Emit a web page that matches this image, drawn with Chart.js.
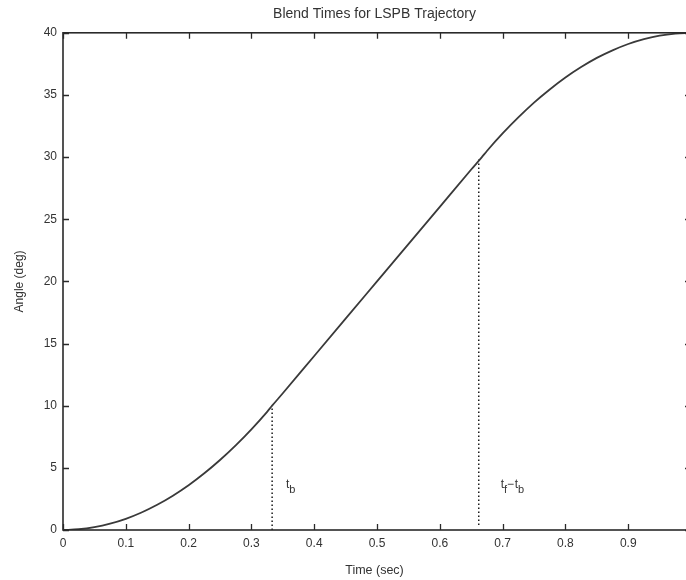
<!DOCTYPE html>
<html>
<head>
<meta charset="utf-8">
<title>Blend Times for LSPB Trajectory</title>
<script src="https://cdn.jsdelivr.net/npm/chart.js@4/dist/chart.umd.min.js"></script>
<style>
  html, body { margin: 0; padding: 0; background: #ffffff; overflow: hidden; }
  #wrap { width: 686px; height: 580px; }
</style>
</head>
<body>
<div id="wrap"><canvas id="lspb" width="686" height="580"></canvas></div>
<script>
// Joint angle of the LSPB (linear segment with parabolic blends) trajectory
const timeSec = [0, 0.025, 0.05, 0.075, 0.1, 0.125, 0.15, 0.175, 0.2, 0.225, 0.25, 0.275, 0.3, 0.325, 0.333,
                 0.35, 0.4, 0.45, 0.5, 0.55, 0.6, 0.65, 0.667,
                 0.675, 0.7, 0.725, 0.75, 0.775, 0.8, 0.825, 0.85, 0.875, 0.9, 0.925, 0.95, 0.975, 1];
const angleDeg = [0, 0.06, 0.23, 0.51, 0.9, 1.41, 2.03, 2.76, 3.6, 4.56, 5.63, 6.81, 8.1, 9.51, 10,
                  11, 14, 17, 20, 23, 26, 29, 30,
                  30.49, 31.9, 33.19, 34.38, 35.44, 36.4, 37.24, 37.98, 38.59, 39.1, 39.49, 39.78, 39.94, 40];

// Blend instants: start/end of the linear segment and the angle reached there
const blendTimes = [0.333, 0.662];
const blendAngles = [10, 30];
const blendBase = [0, 0.4];
const blendNames = [["t", "b"], ["t", "f", "\u2212", "t", "b"]];

// Tick values (the axis box ends at t = 1, just past the visible edge)
const xTicks = [0, 0.1, 0.2, 0.3, 0.4, 0.5, 0.6, 0.7, 0.8, 0.9];
const yTicks = [0, 5, 10, 15, 20, 25, 30, 35, 40];
const X_VISIBLE_MAX = 0.992;
const X_BOX_END = 1;

const FONT = "'Liberation Sans', Arial, Helvetica, sans-serif";
const INK = '#333333';

// where the blend-time names sit, in data units
const nameAnchors = [{ x: 0.355, y: 3.4 }, { x: 0.697, y: 3.4 }];

const curve = timeSec.map((t, i) => ({ x: t, y: angleDeg[i] }));
const blendSets = blendTimes.map((t, i) => ({
  data: [{ x: t, y: blendBase[i] }, { x: t, y: blendAngles[i] }],
  borderColor: '#1a1a1a',
  borderWidth: 1.5,
  borderDash: [1.5, 2.5],
  pointRadius: 0,
  fill: false
}));

// Matlab-style boxed axes with inward tick marks, plus subscripted labels
const boxAxes = {
  id: 'boxAxes',
  afterDatasetsDraw(chart) {
    const { ctx, chartArea: a, scales: { x, y } } = chart;
    const boxRight = x.getPixelForValue(X_BOX_END);
    ctx.save();
    ctx.strokeStyle = '#2a2a2a';
    ctx.lineWidth = 1.6;
    ctx.strokeRect(a.left, a.top, boxRight - a.left, a.bottom - a.top);
    ctx.lineWidth = 1.3;
    ctx.beginPath();
    const len = 6;
    x.ticks.forEach(t => {
      const px = Math.round(x.getPixelForValue(t.value)) + 0.5;
      ctx.moveTo(px, a.bottom); ctx.lineTo(px, a.bottom - len);
      ctx.moveTo(px, a.top); ctx.lineTo(px, a.top + len);
    });
    y.ticks.forEach(t => {
      const py = Math.round(y.getPixelForValue(t.value)) + 0.5;
      ctx.moveTo(a.left, py); ctx.lineTo(a.left + len, py);
      ctx.moveTo(boxRight, py); ctx.lineTo(boxRight - len, py);
    });
    ctx.stroke();

    // t_b and t_f - t_b
    ctx.fillStyle = INK;
    ctx.textBaseline = 'alphabetic';
    ctx.textAlign = 'left';
    blendNames.forEach((parts, i) => {
      let px = x.getPixelForValue(nameAnchors[i].x);
      const py = y.getPixelForValue(nameAnchors[i].y);
      parts.forEach(p => {
        const isSub = (p === 'b' || p === 'f');
        ctx.font = (isSub ? '11px ' : '12px ') + FONT;
        const dy = isSub ? 5 : 0;
        ctx.fillText(p, px, py + dy);
        px += ctx.measureText(p).width + (p === '\u2212' ? 0.5 : 0);
      });
    });
    ctx.restore();
  }
};

new Chart(document.getElementById('lspb'), {
  type: 'line',
  data: {
    datasets: [{
      data: curve,
      borderColor: '#3a3a3a',
      borderWidth: 1.8,
      pointRadius: 0,
      cubicInterpolationMode: 'monotone',
      fill: false
    }, ...blendSets]
  },
  options: {
    responsive: false,
    animation: false,
    devicePixelRatio: 1,
    layout: { padding: 0 },
    plugins: {
      legend: { display: false },
      tooltip: { enabled: false },
      title: {
        display: true,
        text: 'Blend Times for LSPB Trajectory',
        color: INK,
        align: 'center',
        fullSize: false,
        font: { family: FONT, size: 14, weight: 'normal' },
        padding: { top: 6, bottom: 10 }
      }
    },
    scales: {
      x: {
        type: 'linear',
        min: 0,
        max: X_VISIBLE_MAX,
        afterBuildTicks: s => { s.ticks = xTicks.map(v => ({ value: v })); },
        afterFit: s => { s.height = 50; },
        grid: { display: false, drawTicks: false },
        border: { display: false },
        ticks: {
          color: INK,
          font: { family: FONT, size: 12 },
          padding: 6,
          maxRotation: 0,
          autoSkip: false,
          callback: v => String(v)
        },
        title: {
          display: true,
          text: 'Time (sec)',
          color: INK,
          font: { family: FONT, size: 12.5 },
          padding: { top: 0, bottom: 2 }
        }
      },
      y: {
        type: 'linear',
        min: 0,
        max: 40,
        afterBuildTicks: s => { s.ticks = yTicks.map(v => ({ value: v })); },
        afterFit: s => { s.width = 63; },
        grid: { display: false, drawTicks: false },
        border: { display: false },
        ticks: {
          color: INK,
          font: { family: FONT, size: 12 },
          padding: 6,
          autoSkip: false,
          callback: v => String(v)
        },
        title: {
          display: true,
          text: 'Angle (deg)',
          color: INK,
          font: { family: FONT, size: 12 },
          padding: { top: 12, bottom: 0 }
        }
      }
    }
  },
  plugins: [boxAxes]
});
</script>
</body>
</html>
